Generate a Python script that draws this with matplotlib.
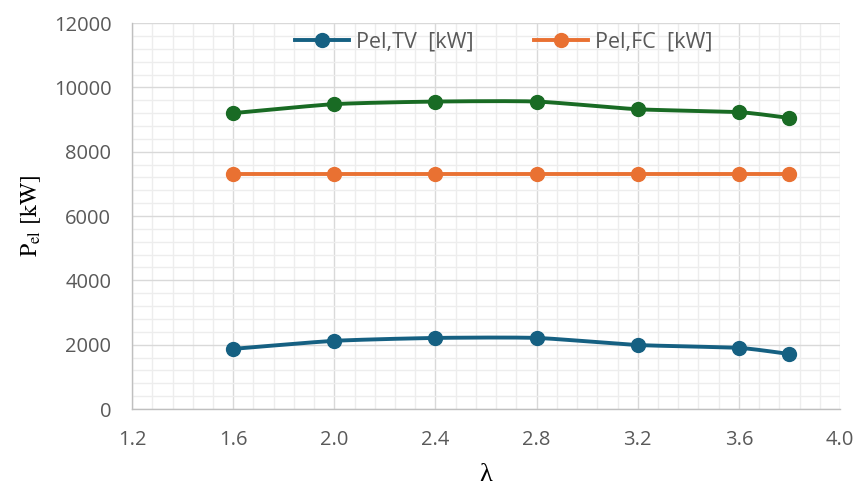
import numpy as np
import matplotlib
matplotlib.use("Agg")
import matplotlib.pyplot as plt
from matplotlib.ticker import MultipleLocator

lam = [1.6, 2.0, 2.4, 2.8, 3.2, 3.6, 3.8]
p_tv = [1870, 2120, 2210, 2210, 1990, 1900, 1710]
p_fc = [7300, 7300, 7300, 7300, 7300, 7300, 7300]
p_total = [9200, 9480, 9560, 9560, 9320, 9230, 9050]

x_ticks = [1.2, 1.6, 2.0, 2.4, 2.8, 3.2, 3.6, 4.0]
y_ticks = [0, 2000, 4000, 6000, 8000, 10000, 12000]

C_TV = "#156082"
C_FC = "#E97132"
C_TOT = "#196B24"


def smooth(xs, ys, n=30):
    """Cardinal-spline curve through the points, like a spreadsheet smoothed line."""
    xs = np.asarray(xs, float)
    ys = np.asarray(ys, float)
    px = np.concatenate([[2 * xs[0] - xs[1]], xs, [2 * xs[-1] - xs[-2]]])
    py = np.concatenate([[2 * ys[0] - ys[1]], ys, [2 * ys[-1] - ys[-2]]])
    outx, outy = [], []
    t = np.linspace(0, 1, n)
    for i in range(1, len(px) - 2):
        for arr, out in ((px, outx), (py, outy)):
            p0, p1, p2, p3 = arr[i - 1], arr[i], arr[i + 1], arr[i + 2]
            m1 = (p2 - p0) / 2 * 0.6
            m2 = (p3 - p1) / 2 * 0.6
            h00 = 2 * t**3 - 3 * t**2 + 1
            h10 = t**3 - 2 * t**2 + t
            h01 = -2 * t**3 + 3 * t**2
            h11 = t**3 - t**2
            out.extend(h00 * p1 + h10 * m1 + h01 * p2 + h11 * m2)
    return np.array(outx), np.array(outy)


plt.rcParams["font.family"] = ["Open Sans", "DejaVu Sans"]
plt.rcParams["mathtext.fontset"] = "stix"

fig = plt.figure(figsize=(8.58, 4.91), dpi=100)
ax = fig.add_axes([0.154, 0.167, 0.825, 0.786])

for ys, col, lab in ((p_tv, C_TV, "Pel,TV  [kW]"),
                     (p_fc, C_FC, "Pel,FC  [kW]"),
                     (p_total, C_TOT, None)):
    sx, sy = smooth(lam, ys)
    ax.plot(sx, sy, color=col, lw=2.8, zorder=3, solid_capstyle="round")
    ax.plot(lam, ys, "o", color=col, ms=10, zorder=4)
    if lab:
        ax.plot([], [], "-o", color=col, lw=2.8, ms=10, label=lab)

ax.set_xlim(1.2, 4.0)
ax.set_ylim(0, 12000)
ax.set_xticks(x_ticks)
ax.set_xticklabels([f"{v:.1f}" for v in x_ticks])
ax.set_yticks(y_ticks)
ax.set_yticklabels([str(v) for v in y_ticks])
ax.xaxis.set_minor_locator(MultipleLocator(0.08))
ax.yaxis.set_minor_locator(MultipleLocator(400))

ax.grid(which="major", color="#D9D9D9", lw=1.0, zorder=0)
ax.grid(which="minor", color="#EDEDED", lw=1.0, zorder=0)
ax.set_axisbelow(True)

for s in ("top", "right"):
    ax.spines[s].set_visible(False)
for s in ("left", "bottom"):
    ax.spines[s].set_color("#BFBFBF")
    ax.spines[s].set_linewidth(1.0)

ax.tick_params(which="both", length=0, colors="#595959", labelsize=14.5)
ax.tick_params(axis="x", pad=15)
ax.tick_params(axis="y", pad=15)

ax.set_ylabel(r"P$_{\rm el}$ [kW]", fontsize=17, family="STIXGeneral",
              color="black", labelpad=8)
ax.set_xlabel("λ", fontsize=19, family=["Liberation Serif", "DejaVu Serif"],
              color="black", labelpad=10)

leg = ax.legend(loc="upper center", bbox_to_anchor=(0.525, 1.028), ncol=2,
                frameon=False, fontsize=15.5, handlelength=2.5,
                columnspacing=2.85, handletextpad=0.3)
for t in leg.get_texts():
    t.set_color("#595959")

fig.savefig("out.png", dpi=100, facecolor="white")
